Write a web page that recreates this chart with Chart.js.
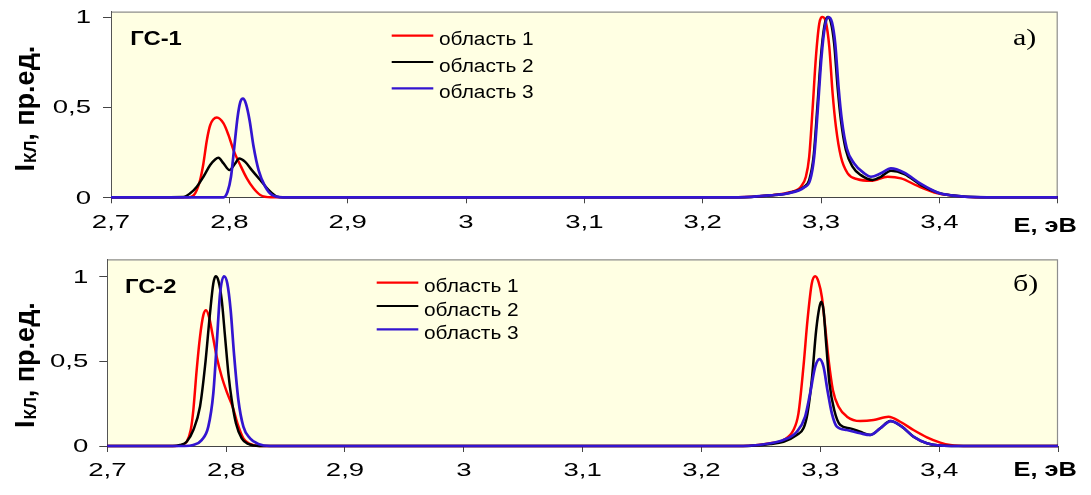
<!DOCTYPE html>
<html>
<head>
<meta charset="utf-8">
<script src="https://cdn.jsdelivr.net/npm/chart.js@4.4.1/dist/chart.umd.min.js"></script>
<style>
  html, body { margin: 0; padding: 0; background: #ffffff; }
  #wrap { position: relative; width: 1091px; height: 495px; overflow: hidden; }
  #wrap canvas { position: absolute; left: 0; }
</style>
</head>
<body>
<div id="wrap">
  <canvas id="gs1" width="1091" height="247" style="top:0px"></canvas>
  <canvas id="gs2" width="1091" height="248" style="top:247px"></canvas>
</div>
<script>
// ---- labels ----
const seriesNames = ['область 1', 'область 2', 'область 3'];
const seriesColors = ['#ff0000', '#000000', '#3315d0'];
const xTickValues = [2.7, 2.8, 2.9, 3.0, 3.1, 3.2, 3.3, 3.4, 3.5];
const xTickLabels = ['2,7', '2,8', '2,9', '3', '3,1', '3,2', '3,3', '3,4', ''];
const yTickValues = [0, 0.5, 1];
const yTickLabels = ['0', '0,5', '1'];
const xAxisUnit = 'E, эВ';
const yAxisTitle = ['I', 'КЛ', ', пр.ед.'];   // main letter, subscript, rest
const panelNames = ['ГС-1', 'ГС-2'];
const panelMarks = ['а)', 'б)'];

// ---- ГС-1: energy (eV) and normalized intensity ----
const gs1Region1E = [2.70, 2.765, 2.7711, 2.7753, 2.7781, 2.781, 2.7838, 2.7894, 2.7951, 2.7993, 2.8035, 2.8092, 2.8148, 2.8204, 2.8261, 2.835,
  3.23, 3.2575, 3.2717, 3.283, 3.2872, 3.29, 3.2928, 3.2957, 3.2985, 3.3013, 3.3041, 3.307, 3.3098, 3.3126, 3.3168, 3.3225, 3.3309, 3.3422, 3.3563, 3.3676, 3.3817, 3.3986, 3.4098, 3.43, 3.50];
const gs1Region1I = [0, 0, 0.022, 0.096, 0.188, 0.317, 0.400, 0.443, 0.410, 0.345, 0.262, 0.179, 0.105, 0.050, 0.013, 0,
  0, 0.011, 0.026, 0.059, 0.114, 0.225, 0.483, 0.779, 0.963, 1.0, 0.972, 0.834, 0.576, 0.391, 0.225, 0.133, 0.100, 0.092, 0.114, 0.105, 0.063, 0.022, 0.011, 0, 0];

const gs1Region2E = [2.70, 2.7612, 2.7669, 2.7725, 2.7781, 2.7838, 2.788, 2.7908, 2.7951, 2.8001, 2.8049, 2.8083, 2.8134, 2.819, 2.8261, 2.8331, 2.8402, 2.846,
  3.23, 3.2575, 3.2717, 3.2858, 3.29, 3.2937, 3.2971, 3.2999, 3.3027, 3.3055, 3.3083, 3.3111, 3.314, 3.3168, 3.321, 3.3266, 3.3337, 3.3435, 3.3506, 3.3591, 3.3704, 3.3845, 3.3986, 3.4098, 3.435, 3.50];
const gs1Region2I = [0, 0.002, 0.022, 0.059, 0.114, 0.179, 0.210, 0.219, 0.188, 0.151, 0.188, 0.216, 0.197, 0.151, 0.096, 0.041, 0.004, 0,
  0, 0.011, 0.022, 0.059, 0.096, 0.225, 0.520, 0.779, 0.945, 1.0, 0.972, 0.853, 0.612, 0.428, 0.262, 0.170, 0.123, 0.096, 0.114, 0.147, 0.129, 0.068, 0.026, 0.011, 0, 0];

const gs1Region3E = [2.70, 2.795, 2.7985, 2.8014, 2.8042, 2.807, 2.8093, 2.8115, 2.814, 2.8171, 2.8205, 2.8247, 2.8303, 2.836, 2.845,
  3.23, 3.2575, 3.2717, 3.2858, 3.2908, 3.2942, 3.2976, 3.3004, 3.3032, 3.3063, 3.3092, 3.312, 3.3148, 3.3176, 3.3218, 3.328, 3.3365, 3.3422, 3.3506, 3.3591, 3.3704, 3.3845, 3.3986, 3.4098, 3.44, 3.50];
const gs1Region3I = [0, 0, 0.031, 0.114, 0.280, 0.446, 0.529, 0.548, 0.520, 0.428, 0.280, 0.151, 0.059, 0.013, 0,
  0, 0.011, 0.022, 0.055, 0.096, 0.225, 0.520, 0.779, 0.945, 1.0, 0.972, 0.853, 0.612, 0.428, 0.271, 0.188, 0.133, 0.114, 0.133, 0.160, 0.136, 0.074, 0.026, 0.011, 0, 0];

// ---- ГС-2 ----
const gs2Region1E = [2.70, 2.757, 2.7626, 2.7668, 2.7702, 2.7724, 2.7752, 2.778, 2.7808, 2.7831, 2.7856, 2.7884, 2.7921, 2.7963, 2.801, 2.8055, 2.8095, 2.8145, 2.8201, 2.828,
  3.235, 3.2578, 3.269, 3.2774, 3.2816, 3.2858, 3.2892, 3.2928, 3.2957, 3.2985, 3.3013, 3.3041, 3.307, 3.3106, 3.3154, 3.3224, 3.3336, 3.3448, 3.3574, 3.3672, 3.3784, 3.3897, 3.4009, 3.4093, 3.425, 3.50];
const gs2Region1I = [0, 0, 0.006, 0.025, 0.094, 0.212, 0.447, 0.643, 0.771, 0.800, 0.761, 0.663, 0.525, 0.408, 0.310, 0.231, 0.133, 0.045, 0.012, 0,
  0, 0.016, 0.035, 0.094, 0.192, 0.467, 0.741, 0.957, 1.0, 0.967, 0.878, 0.702, 0.506, 0.329, 0.231, 0.173, 0.147, 0.153, 0.173, 0.143, 0.094, 0.051, 0.020, 0.006, 0, 0];

const gs2Region2E = [2.70, 2.755, 2.7612, 2.7668, 2.7724, 2.778, 2.7822, 2.7864, 2.7892, 2.7912, 2.7934, 2.7963, 2.7991, 2.8019, 2.8047, 2.8083, 2.8131, 2.8187, 2.828,
  3.235, 3.2578, 3.269, 3.2802, 3.2858, 3.2892, 3.2928, 3.2965, 3.2993, 3.3007, 3.3027, 3.3049, 3.3077, 3.3117, 3.3167, 3.3251, 3.3336, 3.342, 3.3504, 3.3588, 3.3686, 3.3784, 3.3897, 3.41, 3.50];
const gs2Region2I = [0, 0, 0.006, 0.025, 0.094, 0.231, 0.467, 0.780, 0.957, 1.0, 0.976, 0.859, 0.643, 0.427, 0.271, 0.133, 0.045, 0.012, 0,
  0, 0.012, 0.025, 0.065, 0.104, 0.192, 0.388, 0.682, 0.820, 0.850, 0.800, 0.604, 0.369, 0.212, 0.124, 0.104, 0.084, 0.065, 0.104, 0.147, 0.114, 0.055, 0.016, 0, 0];

const gs2Region3E = [2.70, 2.765, 2.7724, 2.7794, 2.785, 2.7892, 2.7921, 2.7949, 2.7982, 2.801, 2.8038, 2.8066, 2.8103, 2.8145, 2.8201, 2.8271, 2.837,
  3.235, 3.2578, 3.269, 3.2802, 3.2872, 3.2914, 3.2957, 3.2993, 3.3027, 3.306, 3.3097, 3.3139, 3.3224, 3.3336, 3.342, 3.3504, 3.3594, 3.3686, 3.3784, 3.3897, 3.41, 3.50];
const gs2Region3I = [0, 0, 0.006, 0.035, 0.114, 0.310, 0.604, 0.898, 1.0, 0.957, 0.800, 0.545, 0.271, 0.114, 0.045, 0.012, 0,
  0, 0.016, 0.035, 0.084, 0.173, 0.310, 0.467, 0.512, 0.467, 0.329, 0.192, 0.114, 0.094, 0.075, 0.065, 0.104, 0.147, 0.114, 0.055, 0.016, 0, 0];

// ---- drawing helpers ----
const SANS = "'Liberation Sans', Arial, sans-serif";
const SERIF = "'Liberation Serif', 'Times New Roman', serif";

// text widened horizontally by factor sx
function wideText(ctx, text, x, y, font, sx, align, baseline, color) {
  ctx.save();
  ctx.font = font;
  ctx.fillStyle = color || '#000';
  ctx.textAlign = 'left';
  ctx.textBaseline = baseline || 'alphabetic';
  const w = ctx.measureText(text).width * sx;
  const x0 = align === 'center' ? x - w / 2 : align === 'right' ? x - w : x;
  ctx.translate(x0, y);
  ctx.scale(sx, 1);
  ctx.fillText(text, 0, 0);
  ctx.restore();
}

function pairs(xs, ys) { return xs.map((x, i) => ({ x: x, y: ys[i] })); }

function decorPlugin(p) {
  return {
    id: 'panelDecor',
    beforeDraw(chart) {
      const { ctx, chartArea: a } = chart;
      ctx.save();
      ctx.fillStyle = '#ffffe3';
      ctx.fillRect(a.left, a.top, a.right - a.left, a.bottom - a.top);
      ctx.strokeStyle = '#8e8e8e';
      ctx.lineWidth = 1.2;
      ctx.beginPath();
      ctx.moveTo(a.left, a.top + 0.5);
      ctx.lineTo(a.right - 0.5, a.top + 0.5);
      ctx.lineTo(a.right - 0.5, a.bottom);
      ctx.stroke();
      ctx.restore();
    },
    afterDraw(chart) {
      const ctx = chart.ctx;
      const xs = chart.scales.x, ys = chart.scales.y;

      // x tick labels
      xs.ticks.forEach(t => {
        const lbl = xTickLabels[xTickValues.indexOf(t.value)];
        if (lbl) wideText(ctx, lbl, xs.getPixelForValue(t.value), xs.top + p.xLabelDy, `19px ${SANS}`, 1.45, 'center');
      });
      // y tick labels
      ys.ticks.forEach(t => {
        const lbl = yTickLabels[yTickValues.indexOf(t.value)];
        wideText(ctx, lbl, ys.right - p.yLabelGap, ys.getPixelForValue(t.value) + 1, `19px ${SANS}`, 1.45, 'right', 'middle');
      });
      // x axis unit
      wideText(ctx, xAxisUnit, p.unitX, xs.top + p.unitDy, `bold 19.5px ${SANS}`, 1.3, 'left');

      // y axis title, rotated
      ctx.save();
      ctx.translate(p.titleX, p.titleY);
      ctx.rotate(-Math.PI / 2);
      ctx.fillStyle = '#000';
      ctx.textAlign = 'left';
      ctx.textBaseline = 'alphabetic';
      ctx.font = `bold 27px ${SANS}`;
      ctx.fillText(yAxisTitle[0], 0, 0);
      let w = ctx.measureText(yAxisTitle[0]).width + 1;
      ctx.font = `bold 17px ${SANS}`;
      ctx.fillText(yAxisTitle[1], w, 2);
      w += ctx.measureText(yAxisTitle[1]).width;
      ctx.font = `bold 27px ${SANS}`;
      ctx.fillText(yAxisTitle[2], w, 0);
      ctx.restore();

      // panel name and mark
      wideText(ctx, p.name, p.nameX, p.nameY, `bold 20px ${SANS}`, 1.19, 'left');
      wideText(ctx, p.mark, p.markX, p.markY, `24px ${SERIF}`, 1.25, 'left');

      // legend
      seriesNames.forEach((name, i) => {
        const y = p.legY + i * p.legStep;
        ctx.save();
        ctx.strokeStyle = seriesColors[i];
        ctx.lineWidth = 2.2;
        ctx.beginPath();
        ctx.moveTo(p.legX1, y);
        ctx.lineTo(p.legX2, y);
        ctx.stroke();
        ctx.restore();
        wideText(ctx, name, p.legTextX, y + 9.5, `18px ${SANS}`, 1.16, 'left');
      });
    }
  };
}

function makePanel(canvasId, series, p) {
  const canvas = document.getElementById(canvasId);
  const W = canvas.width, H = canvas.height;
  const orders = [2, 1, 0];
  const widths = [2.5, 2.5, 2.7];
  return new Chart(canvas, {
    type: 'line',
    data: {
      datasets: series.map((s, i) => ({
        label: seriesNames[i],
        data: pairs(s[0], s[1]),
        borderColor: seriesColors[i],
        borderWidth: widths[i],
        pointRadius: 0,
        fill: false,
        cubicInterpolationMode: 'monotone',
        order: orders[i],
        clip: false
      }))
    },
    options: {
      responsive: false,
      animation: false,
      devicePixelRatio: 1,
      events: [],
      layout: { padding: { left: 0, top: p.areaTop, right: W - p.areaRight, bottom: 0 } },
      plugins: { legend: { display: false }, tooltip: { enabled: false }, title: { display: false } },
      scales: {
        x: {
          type: 'linear',
          min: 2.7,
          max: 3.5,
          afterBuildTicks: s => { s.ticks = xTickValues.map(v => ({ value: v })); },
          afterFit: s => { s.height = H - p.areaBottom; },
          ticks: { display: false },
          grid: { display: true, drawOnChartArea: false, drawTicks: true, tickLength: 6, color: '#444', lineWidth: 1 },
          border: { display: true, color: '#444', width: 1 }
        },
        y: {
          type: 'linear',
          min: 0,
          max: p.yMax,
          afterBuildTicks: s => { s.ticks = yTickValues.map(v => ({ value: v })); },
          afterFit: s => { s.width = p.areaLeft; },
          ticks: { display: false },
          grid: { display: true, drawOnChartArea: false, drawTicks: true, tickLength: 8, color: '#444', lineWidth: 1 },
          border: { display: true, color: '#555', width: 1 }
        }
      }
    },
    plugins: [decorPlugin(p)]
  });
}

makePanel('gs1', [[gs1Region1E, gs1Region1I], [gs1Region2E, gs1Region2I], [gs1Region3E, gs1Region3I]], {
  areaLeft: 111, areaRight: 1057.7, areaTop: 11.7, areaBottom: 197.3, yMax: 1.03,
  xLabelDy: 31, yLabelGap: 20, unitX: 1013.6, unitDy: 35,
  titleX: 34, titleY: 171.5,
  name: panelNames[0], nameX: 130.3, nameY: 45,
  mark: panelMarks[0], markX: 1013, markY: 45,
  legX1: 391.7, legX2: 433.3, legTextX: 439, legY: 35.7, legStep: 26.3
});

makePanel('gs2', [[gs2Region1E, gs2Region1I], [gs2Region2E, gs2Region2I], [gs2Region3E, gs2Region3I]], {
  areaLeft: 107.3, areaRight: 1058, areaTop: 12.3, areaBottom: 199, yMax: 1.1,
  xLabelDy: 30, yLabelGap: 19, unitX: 1013.6, unitDy: 30,
  titleX: 34, titleY: 181,
  name: panelNames[1], nameX: 125, nameY: 45.7,
  mark: panelMarks[1], markX: 1013, markY: 43.5,
  legX1: 376.7, legX2: 418.3, legTextX: 424, legY: 35.7, legStep: 23.3
});
</script>
</body>
</html>
